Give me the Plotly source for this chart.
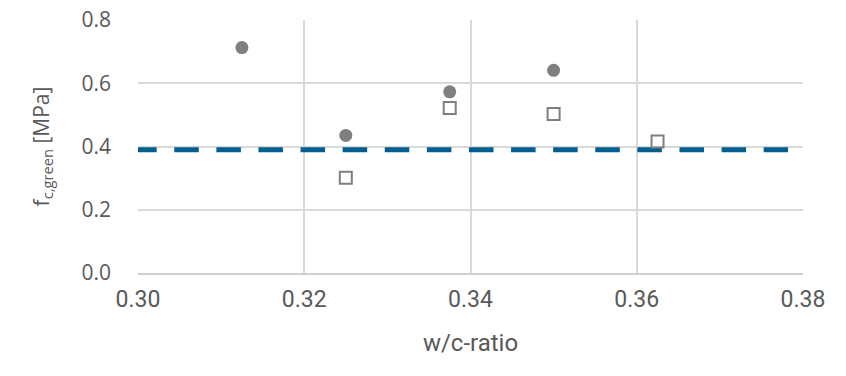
import plotly.graph_objects as go

wc_circle = [0.3125, 0.325, 0.3375, 0.35]
fc_circle = [0.713, 0.435, 0.573, 0.641]
wc_square = [0.325, 0.3375, 0.35, 0.3625]
fc_square = [0.301, 0.522, 0.503, 0.416]
limit_x = [0.2993, 0.3782]
limit_y = [0.39, 0.39]

x_ticks = [0.30, 0.32, 0.34, 0.36, 0.38]
y_ticks = [0.0, 0.2, 0.4, 0.6, 0.8]

fig = go.Figure()
fig.add_trace(go.Scatter(x=limit_x, y=limit_y, mode="lines",
                         line=dict(color="#005f8e", width=5, dash="24.5px,17.6px"),
                         showlegend=False, cliponaxis=False))
fig.add_trace(go.Scatter(x=wc_circle, y=fc_circle, mode="markers",
                         marker=dict(symbol="circle", size=13, color="#7f7f7f"),
                         showlegend=False))
fig.add_trace(go.Scatter(x=wc_square, y=fc_square, mode="markers",
                         marker=dict(symbol="square-open", size=12, color="#7f7f7f",
                                     line=dict(width=2, color="#7f7f7f")),
                         showlegend=False, cliponaxis=False))

font_family = "Open Sans, Noto Sans, sans-serif"
narrow = "Liberation Sans Narrow, Roboto, sans-serif"
fig.update_layout(
    width=846, height=376,
    margin=dict(l=138, r=43, t=20, b=103, autoexpand=False),
    plot_bgcolor="white", paper_bgcolor="white",
    font=dict(family=font_family, color="#595959", size=20),
    xaxis=dict(range=[0.30, 0.38], tickvals=x_ticks, tickformat=".2f",
               showgrid=True, gridcolor="#d9d9d9", gridwidth=1.5,
               showline=True, linecolor="#d0d0d0", linewidth=1.5,
               zeroline=False, ticks="", ticklabelstandoff=5, automargin=False,
               ticklabeloverflow="allow",
               tickfont=dict(size=23, family=narrow),
               title=dict(text="w/c-ratio", standoff=22,
                          font=dict(size=24, family=narrow))),
    yaxis=dict(range=[-0.0002, 0.8002], tickvals=y_ticks, tickformat=".1f",
               showgrid=True, gridcolor="#d9d9d9", gridwidth=1.5,
               showline=False, zeroline=False, ticks="", ticklabelstandoff=26,
               automargin=False, ticklabeloverflow="allow",
               tickfont=dict(size=21),
               title=dict(text="f<sub>c,green</sub> [MPa]", standoff=26,
                          font=dict(size=21))),
)
fig.write_html("out.html", config={"displayModeBar": False},
               post_script="document.body.style.margin='0';document.body.style.overflow='hidden';")
